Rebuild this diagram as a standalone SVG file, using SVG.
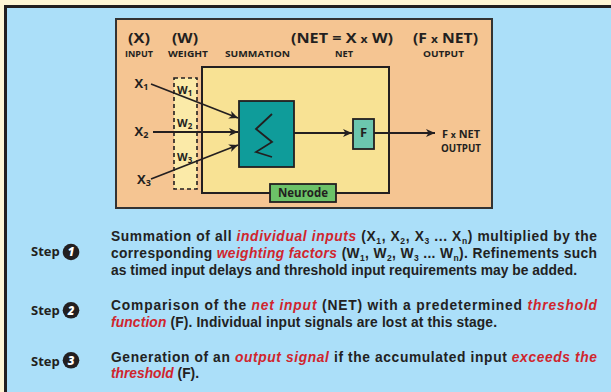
<svg xmlns="http://www.w3.org/2000/svg" width="611" height="392" viewBox="0 0 611 392">
<style>
.lbl{font-family:"Open Sans","Liberation Sans",sans-serif;font-weight:700;fill:#231f20}
.hd{font-size:14.5px}
.sm{font-size:8.6px}
.para{font-family:"Liberation Sans",Arial,sans-serif;font-weight:700;font-size:13.8px;fill:#222}
.red{fill:#d0252d;font-style:italic}
.sub{font-size:8.5px}
.ln{stroke:#231f20;stroke-width:1.8;fill:none}
.step{font-family:"Open Sans","Liberation Sans",sans-serif;font-weight:700;font-size:13px;fill:#231f20}
.num{font-family:"Open Sans","Liberation Sans",sans-serif;font-weight:800;font-style:italic;font-size:11.5px;fill:#fff}
</style>
<defs>
<marker id="ah" markerWidth="10" markerHeight="10" refX="9" refY="4" orient="auto" markerUnits="userSpaceOnUse">
<path d="M0,0 L9,4 L0,8 L2.5,4 z" fill="#231f20"/>
</marker>
</defs>
<rect x="0" y="0" width="611" height="392" fill="#fff6d5"/>
<rect x="5.5" y="6.5" width="620" height="400" fill="#abdff9" stroke="#231f20" stroke-width="3"/>

<g id="panel">
<rect x="116" y="19" width="376" height="189" fill="#f5c592" stroke="#333" stroke-width="2"/>
<text class="lbl hd" x="128" y="42.5" textLength="22" lengthAdjust="spacingAndGlyphs">(X)</text>
<text class="lbl hd" x="172" y="42.5" textLength="26" lengthAdjust="spacingAndGlyphs">(W)</text>
<text class="lbl hd" x="291" y="42.5" textLength="102" lengthAdjust="spacingAndGlyphs">(NET = X <tspan font-size="11">x</tspan> W)</text>
<text class="lbl hd" x="413" y="42.5" textLength="65" lengthAdjust="spacingAndGlyphs">(F <tspan font-size="11">x</tspan> NET)</text>
<text class="lbl sm" x="125" y="56.5" textLength="28" lengthAdjust="spacingAndGlyphs">INPUT</text>
<text class="lbl sm" x="168" y="56.5" textLength="40" lengthAdjust="spacingAndGlyphs">WEIGHT</text>
<text class="lbl sm" x="225" y="56.5" textLength="65" lengthAdjust="spacingAndGlyphs">SUMMATION</text>
<text class="lbl sm" x="335" y="56.5" textLength="18" lengthAdjust="spacingAndGlyphs">NET</text>
<text class="lbl sm" x="423" y="56.5" textLength="41" lengthAdjust="spacingAndGlyphs">OUTPUT</text>
</g>

<g id="neuron-body">
<rect x="202" y="67" width="187" height="126" fill="#f8e294" stroke="#231f20" stroke-width="2"/>
</g>

<g id="weights">
<rect x="174" y="78" width="23" height="111" fill="#fbeaa8" stroke="#231f20" stroke-width="1.6" stroke-dasharray="4,3"/>
<text class="lbl" font-size="11" x="177" y="93.5">W<tspan font-size="8" dy="2">1</tspan></text>
<text class="lbl" font-size="11" x="177" y="127">W<tspan font-size="8" dy="2">2</tspan></text>
<text class="lbl" font-size="11" x="177" y="161">W<tspan font-size="8" dy="2">3</tspan></text>
</g>

<g id="inputs">
<text class="lbl" font-size="13" x="134.5" y="88">X<tspan font-size="9" dy="2">1</tspan></text>
<text class="lbl" font-size="13" x="134.5" y="136">X<tspan font-size="9" dy="2">2</tspan></text>
<text class="lbl" font-size="13" x="137" y="184">X<tspan font-size="9" dy="2">3</tspan></text>
</g>

<g id="summation">
<rect x="239" y="101" width="55" height="66" fill="#0f9c9a" stroke="#231f20" stroke-width="1.8"/>
<path d="M272,114 L256,129 L272,142 L256,152 L272,157" fill="none" stroke="#231f20" stroke-width="1.8" stroke-linejoin="miter"/>
</g>

<g id="threshold">
<rect x="353" y="119" width="21" height="30" fill="#6cc6ae" stroke="#231f20" stroke-width="1.8"/>
<text class="lbl" font-size="13" x="363.5" y="136.5" text-anchor="middle">F</text>
</g>

<g id="neurode">
<rect x="270" y="184" width="66" height="18" fill="#6cc268" stroke="#231f20" stroke-width="1.8"/>
<text class="lbl" font-size="11.5" x="303" y="197" text-anchor="middle" font-weight="600">Neurode</text>
</g>

<g id="output">
<text class="lbl" font-size="10" x="442" y="137.5" textLength="38" lengthAdjust="spacingAndGlyphs">F <tspan font-size="8">x</tspan> NET</text>
<text class="lbl" font-size="10" x="441" y="151.5" textLength="40" lengthAdjust="spacingAndGlyphs">OUTPUT</text>
</g>

<g id="connectors">
<line class="ln" x1="151" y1="84" x2="238" y2="118" marker-end="url(#ah)"/>
<line class="ln" x1="153" y1="132" x2="238" y2="132" marker-end="url(#ah)"/>
<line class="ln" x1="151" y1="179" x2="238" y2="145" marker-end="url(#ah)"/>
<line class="ln" x1="294" y1="133" x2="352" y2="133" marker-end="url(#ah)"/>
<line class="ln" x1="374" y1="133" x2="435" y2="133" marker-end="url(#ah)"/>
</g>

<g id="step1">
<text class="step" x="31" y="256">Step</text>
<circle cx="71" cy="252" r="8.3" fill="#231f20"/>
<text class="num" x="71" y="256.2" text-anchor="middle">1</text>
<text class="para" x="111" y="241" textLength="486" lengthAdjust="spacing">Summation of all <tspan class="red">individual inputs</tspan> (X<tspan class="sub" dy="3">1</tspan><tspan dy="-3">, X</tspan><tspan class="sub" dy="3">2</tspan><tspan dy="-3">, X</tspan><tspan class="sub" dy="3">3</tspan><tspan dy="-3"> ... X</tspan><tspan class="sub" dy="3">n</tspan><tspan dy="-3">) multiplied by the</tspan></text>
<text class="para" x="111" y="258.3" textLength="486" lengthAdjust="spacing">corresponding <tspan class="red">weighting factors</tspan> (W<tspan class="sub" dy="3">1</tspan><tspan dy="-3">, W</tspan><tspan class="sub" dy="3">2</tspan><tspan dy="-3">, W</tspan><tspan class="sub" dy="3">3</tspan><tspan dy="-3"> ... W</tspan><tspan class="sub" dy="3">n</tspan><tspan dy="-3">).  Refinements such</tspan></text>
<text class="para" x="111" y="275.3" textLength="466" lengthAdjust="spacing">as timed input delays and threshold input requirements may be added.</text>
</g>

<g id="step2">
<text class="step" x="31" y="315">Step</text>
<circle cx="71" cy="310.3" r="8.3" fill="#231f20"/>
<text class="num" x="71" y="314.5" text-anchor="middle">2</text>
<text class="para" x="111" y="310.3" textLength="486" lengthAdjust="spacing">Comparison of the <tspan class="red">net input</tspan> (NET) with a predetermined <tspan class="red">threshold</tspan></text>
<text class="para" x="111" y="327.3" textLength="386" lengthAdjust="spacing"><tspan class="red">function</tspan> (F).  Individual input signals are lost at this stage.</text>
</g>

<g id="step3">
<text class="step" x="31" y="366">Step</text>
<circle cx="71" cy="360.3" r="8.3" fill="#231f20"/>
<text class="num" x="71" y="364.5" text-anchor="middle">3</text>
<text class="para" x="111" y="361.7" textLength="486" lengthAdjust="spacing">Generation of an <tspan class="red">output signal</tspan> if the accumulated input <tspan class="red">exceeds the</tspan></text>
<text class="para" x="111" y="377.7" textLength="88" lengthAdjust="spacing"><tspan class="red">threshold</tspan> (F).</text>
</g>
</svg>
